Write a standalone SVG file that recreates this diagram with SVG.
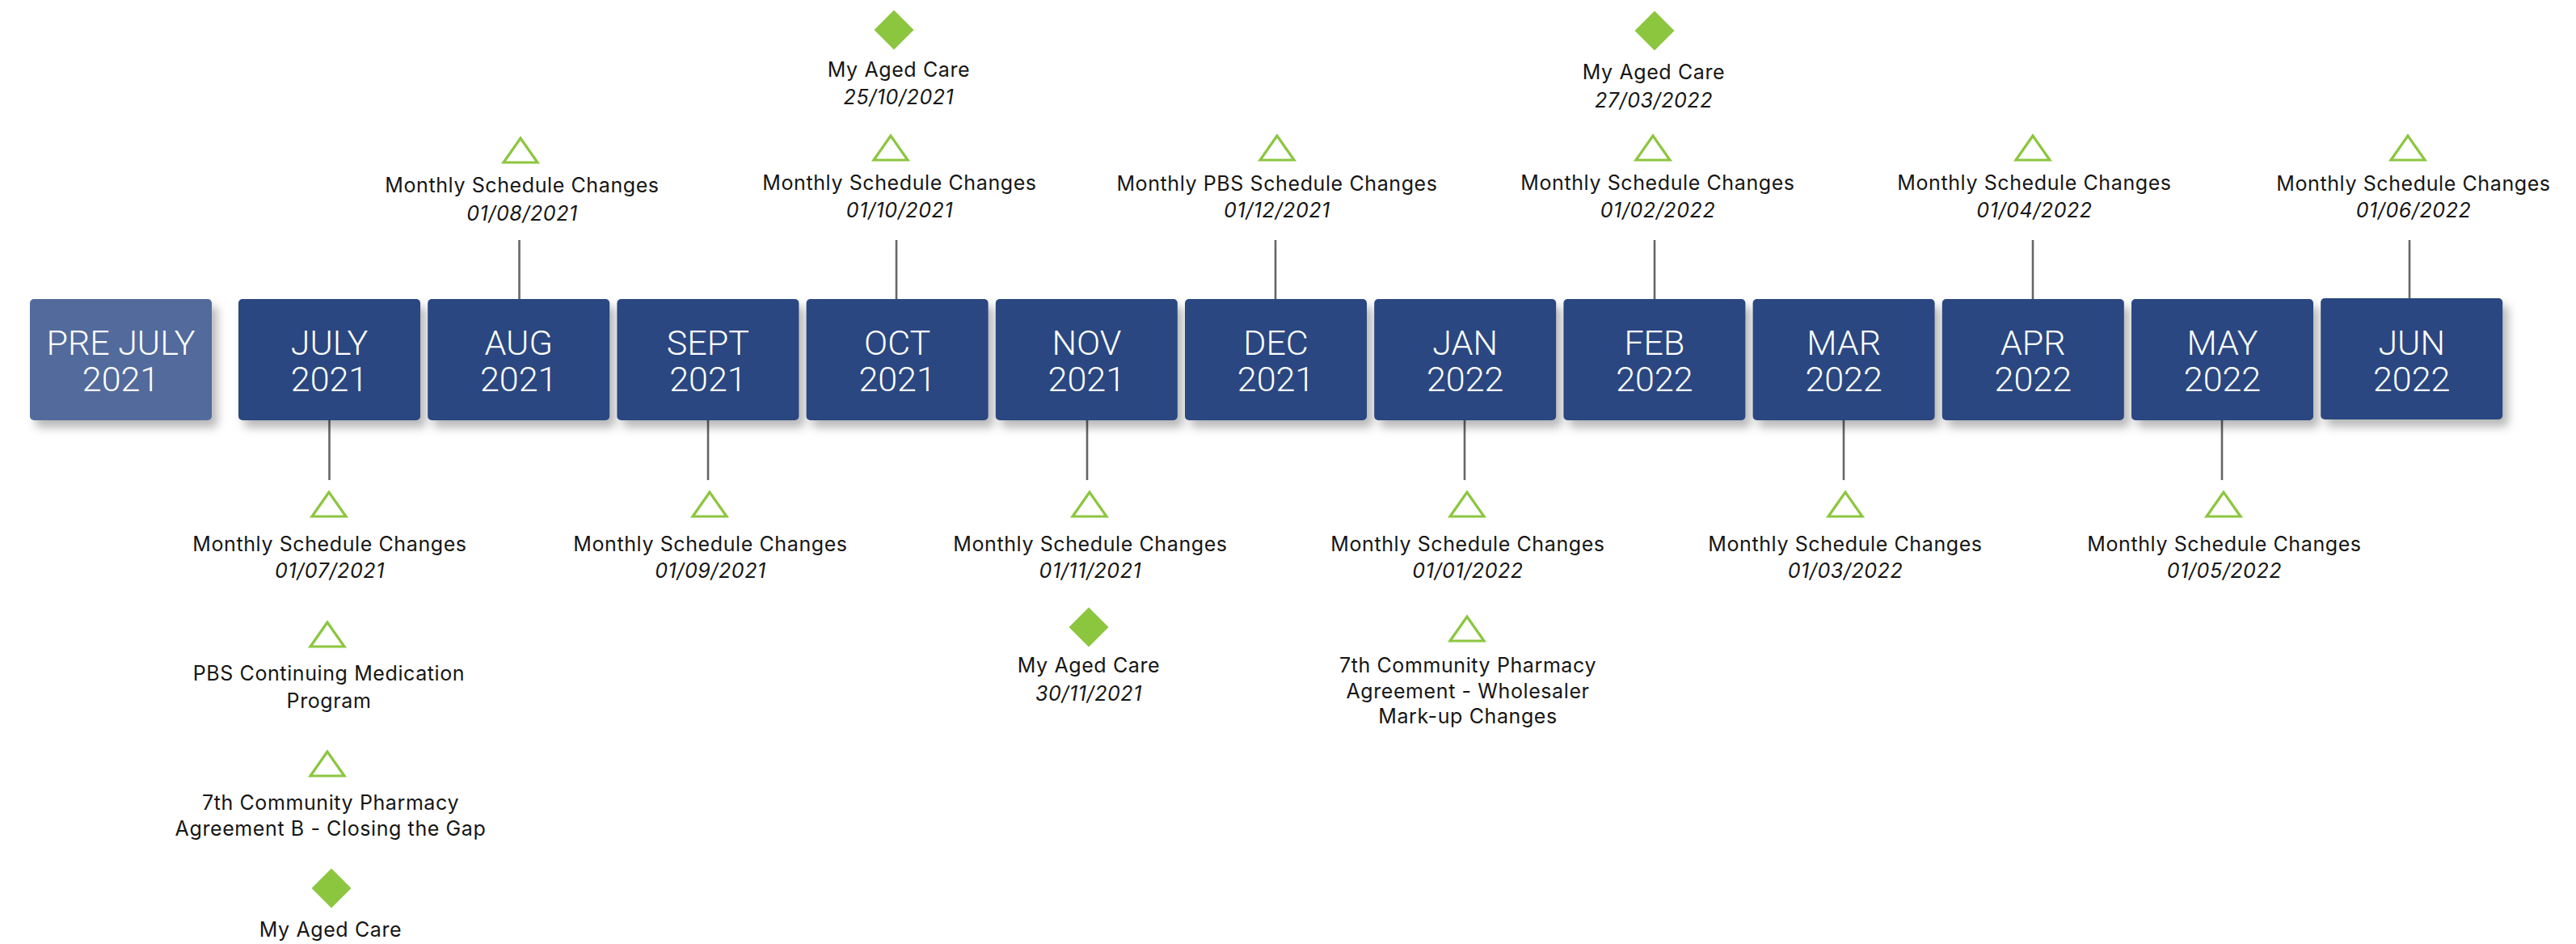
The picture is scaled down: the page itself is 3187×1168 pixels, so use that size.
<svg xmlns="http://www.w3.org/2000/svg" width="3187" height="1168" viewBox="0 0 3187 1168">
<defs>
<filter id="sh" x="-20%" y="-20%" width="150%" height="160%">
<feDropShadow dx="7" dy="9" stdDeviation="6" flood-color="#000" flood-opacity="0.28"/>
</filter>
<polygon id="tri" points="0,-15 -21,15 21,15"/>
<polygon id="dia" points="0,-24.5 24.5,0 0,24.5 -24.5,0"/>
</defs>
<style>
.box{fill:#294681;filter:url(#sh)}
.pre{fill:#536b9c}
.bt{font-family:Roboto,"Liberation Sans",sans-serif;font-weight:300;font-size:43px;fill:#fff;text-anchor:middle}
.lb{font-family:Inter,"Liberation Sans",sans-serif;font-size:25px;letter-spacing:0.6px;fill:#161616;text-anchor:middle}
.dt{font-style:italic}
.tr{fill:none;stroke:#8cc63f;stroke-width:3.2}
.dm{fill:#8cc63f}
.cn{stroke:#666;stroke-width:2.6;fill:none}
</style>
<g id="connectors">
<line class="cn" x1="407.5" y1="520" x2="407.5" y2="594"/>
<line class="cn" x1="642.5" y1="297" x2="642.5" y2="370"/>
<line class="cn" x1="876" y1="520" x2="876" y2="594"/>
<line class="cn" x1="1109" y1="297" x2="1109" y2="370"/>
<line class="cn" x1="1345" y1="520" x2="1345" y2="594"/>
<line class="cn" x1="1578" y1="297" x2="1578" y2="370"/>
<line class="cn" x1="1812" y1="520" x2="1812" y2="594"/>
<line class="cn" x1="2047" y1="297" x2="2047" y2="370"/>
<line class="cn" x1="2281" y1="520" x2="2281" y2="594"/>
<line class="cn" x1="2515" y1="297" x2="2515" y2="370"/>
<line class="cn" x1="2749" y1="520" x2="2749" y2="594"/>
<line class="cn" x1="2981" y1="297" x2="2981" y2="370"/>
</g>
<g id="pre-july"><rect class="box pre" x="37" y="370" width="225" height="150" rx="5"/><text class="bt" x="149.5" y="439">PRE JULY</text><text class="bt" x="149.5" y="484">2021</text></g>
<g id="jul-2021"><rect class="box" x="295" y="370" width="225" height="150" rx="5"/><text class="bt" x="407.5" y="439">JULY</text><text class="bt" x="407.5" y="484">2021</text></g>
<g id="aug-2021"><rect class="box" x="529.2" y="370" width="225" height="150" rx="5"/><text class="bt" x="641.7" y="439">AUG</text><text class="bt" x="641.7" y="484">2021</text></g>
<g id="sep-2021"><rect class="box" x="763.4" y="370" width="225" height="150" rx="5"/><text class="bt" x="875.9" y="439">SEPT</text><text class="bt" x="875.9" y="484">2021</text></g>
<g id="oct-2021"><rect class="box" x="997.6" y="370" width="225" height="150" rx="5"/><text class="bt" x="1110.1" y="439">OCT</text><text class="bt" x="1110.1" y="484">2021</text></g>
<g id="nov-2021"><rect class="box" x="1231.8" y="370" width="225" height="150" rx="5"/><text class="bt" x="1344.3" y="439">NOV</text><text class="bt" x="1344.3" y="484">2021</text></g>
<g id="dec-2021"><rect class="box" x="1466" y="370" width="225" height="150" rx="5"/><text class="bt" x="1578.5" y="439">DEC</text><text class="bt" x="1578.5" y="484">2021</text></g>
<g id="jan-2022"><rect class="box" x="1700.2" y="370" width="225" height="150" rx="5"/><text class="bt" x="1812.7" y="439">JAN</text><text class="bt" x="1812.7" y="484">2022</text></g>
<g id="feb-2022"><rect class="box" x="1934.4" y="370" width="225" height="150" rx="5"/><text class="bt" x="2046.9" y="439">FEB</text><text class="bt" x="2046.9" y="484">2022</text></g>
<g id="mar-2022"><rect class="box" x="2168.6" y="370" width="225" height="150" rx="5"/><text class="bt" x="2281.1" y="439">MAR</text><text class="bt" x="2281.1" y="484">2022</text></g>
<g id="apr-2022"><rect class="box" x="2402.8" y="370" width="225" height="150" rx="5"/><text class="bt" x="2515.3" y="439">APR</text><text class="bt" x="2515.3" y="484">2022</text></g>
<g id="may-2022"><rect class="box" x="2637" y="370" width="225" height="150" rx="5"/><text class="bt" x="2749.5" y="439">MAY</text><text class="bt" x="2749.5" y="484">2022</text></g>
<g id="jun-2022"><rect class="box" x="2871.2" y="369" width="225" height="150" rx="5"/><text class="bt" x="2983.7" y="439">JUN</text><text class="bt" x="2983.7" y="484">2022</text></g>

<g id="ev-jul">
<use href="#tri" class="tr" x="407" y="624"/>
<text class="lb" x="408" y="682">Monthly Schedule Changes</text><text class="lb dt" x="408" y="715">01/07/2021</text>
<use href="#tri" class="tr" x="405" y="785"/>
<text class="lb" x="407" y="842">PBS Continuing Medication</text><text class="lb" x="407" y="876">Program</text>
<use href="#tri" class="tr" x="405" y="945"/>
<text class="lb" x="409" y="1002">7th Community Pharmacy</text><text class="lb" x="409" y="1034">Agreement B - Closing the Gap</text>
<use href="#dia" class="dm" x="410" y="1099"/>
<text class="lb" x="409" y="1159">My Aged Care</text>
</g>
<g id="ev-aug">
<use href="#tri" class="tr" x="644" y="186"/>
<text class="lb" x="646" y="238">Monthly Schedule Changes</text><text class="lb dt" x="646" y="273">01/08/2021</text>
</g>
<g id="ev-sep">
<use href="#tri" class="tr" x="878" y="624"/>
<text class="lb" x="879" y="682">Monthly Schedule Changes</text><text class="lb dt" x="879" y="715">01/09/2021</text>
</g>
<g id="ev-oct">
<use href="#dia" class="dm" x="1106" y="37"/>
<text class="lb" x="1112" y="95">My Aged Care</text><text class="lb dt" x="1112" y="129">25/10/2021</text>
<use href="#tri" class="tr" x="1102" y="183"/>
<text class="lb" x="1113" y="235">Monthly Schedule Changes</text><text class="lb dt" x="1113" y="269">01/10/2021</text>
</g>
<g id="ev-nov">
<use href="#tri" class="tr" x="1348" y="624"/>
<text class="lb" x="1349" y="682">Monthly Schedule Changes</text><text class="lb dt" x="1349" y="715">01/11/2021</text>
<use href="#dia" class="dm" x="1347" y="776"/>
<text class="lb" x="1347" y="832">My Aged Care</text><text class="lb dt" x="1347" y="867">30/11/2021</text>
</g>
<g id="ev-dec">
<use href="#tri" class="tr" x="1580" y="183"/>
<text class="lb" x="1580" y="236">Monthly PBS Schedule Changes</text><text class="lb dt" x="1580" y="269">01/12/2021</text>
</g>
<g id="ev-jan">
<use href="#tri" class="tr" x="1815" y="624"/>
<text class="lb" x="1816" y="682">Monthly Schedule Changes</text><text class="lb dt" x="1816" y="715">01/01/2022</text>
<use href="#tri" class="tr" x="1815" y="778"/>
<text class="lb" x="1816" y="832">7th Community Pharmacy</text><text class="lb" x="1816" y="864">Agreement - Wholesaler</text><text class="lb" x="1816" y="895">Mark-up Changes</text>
</g>
<g id="ev-feb">
<use href="#dia" class="dm" x="2047" y="38"/>
<text class="lb" x="2046" y="98">My Aged Care</text><text class="lb dt" x="2046" y="133">27/03/2022</text>
<use href="#tri" class="tr" x="2045" y="183"/>
<text class="lb" x="2051" y="235">Monthly Schedule Changes</text><text class="lb dt" x="2051" y="269">01/02/2022</text>
</g>
<g id="ev-mar">
<use href="#tri" class="tr" x="2283" y="624"/>
<text class="lb" x="2283" y="682">Monthly Schedule Changes</text><text class="lb dt" x="2283" y="715">01/03/2022</text>
</g>
<g id="ev-apr">
<use href="#tri" class="tr" x="2515" y="183"/>
<text class="lb" x="2517" y="235">Monthly Schedule Changes</text><text class="lb dt" x="2517" y="269">01/04/2022</text>
</g>
<g id="ev-may">
<use href="#tri" class="tr" x="2751" y="624"/>
<text class="lb" x="2752" y="682">Monthly Schedule Changes</text><text class="lb dt" x="2752" y="715">01/05/2022</text>
</g>
<g id="ev-jun">
<use href="#tri" class="tr" x="2979" y="183"/>
<text class="lb" x="2986" y="236">Monthly Schedule Changes</text><text class="lb dt" x="2986" y="269">01/06/2022</text>
</g>
</svg>
